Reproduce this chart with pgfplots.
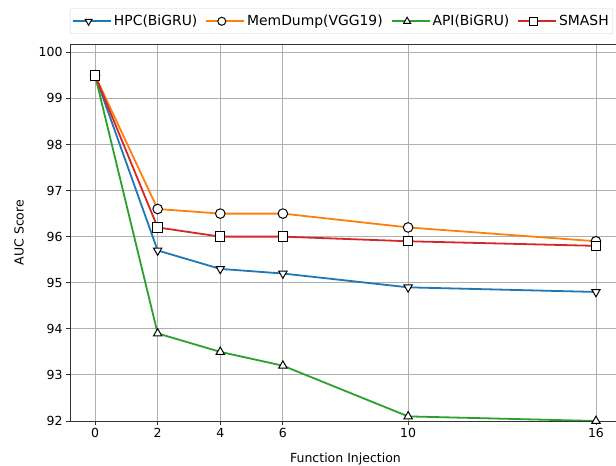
\documentclass[border=0pt]{standalone}
\usepackage{fontspec}
\setmainfont{DejaVu Sans}
\usepackage{pgfplots}
\pgfplotsset{compat=1.18}
\definecolor{tabblue}{HTML}{1F77B4}
\definecolor{taborange}{HTML}{FF7F0E}
\definecolor{tabgreen}{HTML}{2CA02C}
\definecolor{tabred}{HTML}{D62728}
\definecolor{gridgray}{HTML}{B0B0B0}
\begin{document}
\begin{tikzpicture}
\path[use as bounding box] (0pt,0pt) rectangle (616pt,466pt);
\clip (0pt,0pt) rectangle (616pt,466pt);
\begin{axis}[
    at={(70pt,45pt)}, anchor=south west,
    scale only axis, width=551pt, height=377pt,
    xmin=-0.8, xmax=16.8, ymin=92, ymax=100.18,
    xtick={0,2,4,6,10,16},
    ytick={92,93,...,100},
    tick pos=left, tick align=outside,
    major tick length=4pt,
    every tick/.style={black!80, line width=0.9pt},
    axis line style={black!80, line width=0.9pt},
    grid=major,
    major grid style={gridgray, line width=0.9pt},
    tick label style={font=\fontsize{12.5}{14}\selectfont},
    /pgf/number format/assume math mode=true,
    xlabel={Function Injection},
    ylabel={AUC Score},
    label style={font=\fontsize{12.5}{14}\selectfont},
    xlabel style={yshift=-8pt},
    ylabel style={yshift=8pt},
    legend columns=4,
    legend style={at={(0,1)}, anchor=south west, yshift=10pt,
        draw=black!18, rounded corners=2pt,
        font=\fontsize{13.9}{15.5}\selectfont,
        nodes={inner xsep=2pt},
        /tikz/every even column/.append style={column sep=6pt},
        inner xsep=2pt, inner ysep=4.5pt},
    legend cell align=left,
    legend image code/.code={
        \path (0pt,0pt) -- (38pt,0pt);
        \draw[mark repeat=2,mark phase=2,mark size=4pt] plot coordinates {(0pt,0pt) (15.5pt,0pt) (31pt,0pt)};},
]
\addplot[tabblue, line width=1.8pt, mark=triangle*, mark size=4.8pt,
    mark options={draw=black, fill=white, line width=1pt, solid, rotate=180}]
    coordinates {(0,99.5) (2,95.7) (4,95.3) (6,95.2) (10,94.9) (16,94.8)};
\addlegendentry{HPC(BiGRU)}
\addplot[taborange, line width=1.8pt, mark=*, mark size=4.8pt,
    mark options={draw=black, fill=white, line width=1pt, solid}]
    coordinates {(0,99.5) (2,96.6) (4,96.5) (6,96.5) (10,96.2) (16,95.9)};
\addlegendentry{MemDump(VGG19)}
\addplot[tabgreen, line width=1.8pt, mark=triangle*, mark size=4.8pt,
    mark options={draw=black, fill=white, line width=1pt, solid}]
    coordinates {(0,99.5) (2,93.9) (4,93.5) (6,93.2) (10,92.1) (16,92.0)};
\addlegendentry{API(BiGRU)}
\addplot[tabred, line width=1.8pt, mark=square*, mark size=4.7pt,
    mark options={draw=black, fill=white, line width=1pt, solid}]
    coordinates {(0,99.5) (2,96.2) (4,96.0) (6,96.0) (10,95.9) (16,95.8)};
\addlegendentry{SMASH}
\end{axis}
\end{tikzpicture}
\end{document}
